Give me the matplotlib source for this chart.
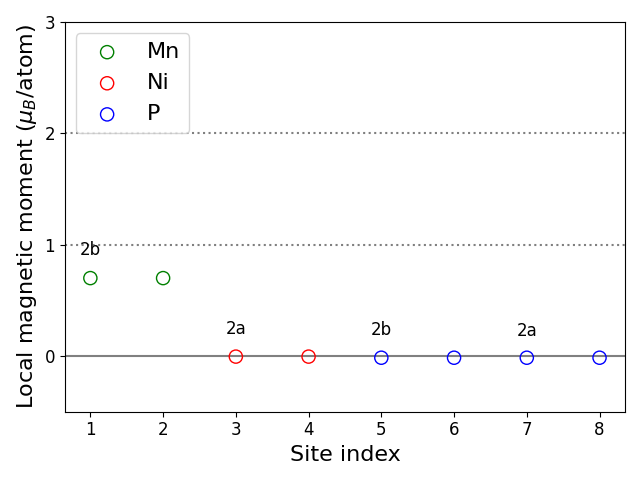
import numpy as np
import matplotlib
matplotlib.use('Agg')
import matplotlib.pyplot as plt

# Site-resolved local moments
mn_sites = [1, 2]
mn_moments = [0.70, 0.70]
ni_sites = [3, 4]
ni_moments = [-0.005, -0.005]
p_sites = [5, 6, 7, 8]
p_moments = [-0.015, -0.015, -0.015, -0.015]

# Wyckoff labels
wyckoff_sites = [1, 3, 5, 7]
wyckoff_labels = ['2b', '2a', '2b', '2a']
wyckoff_y = [0.95, 0.24, 0.235, 0.225]

fig, ax = plt.subplots(figsize=(6.4, 4.8), dpi=100)

ax.axhline(0, color='grey', lw=1.5, zorder=1)
ax.axhline(1, color='grey', ls=':', lw=1.5, zorder=1)
ax.axhline(2, color='grey', ls=':', lw=1.5, zorder=1)

ax.scatter(mn_sites, mn_moments, s=90, facecolors='none', edgecolors='green', label='Mn', zorder=3)
ax.scatter(ni_sites, ni_moments, s=90, facecolors='none', edgecolors='red', label='Ni', zorder=3)
ax.scatter(p_sites, p_moments, s=90, facecolors='none', edgecolors='blue', label='P', zorder=3)

for xs, lab, ys in zip(wyckoff_sites, wyckoff_labels, wyckoff_y):
    ax.text(xs, ys, lab, ha='center', va='center', fontsize=12)

ax.set_ylim(-0.5, 3)
ax.set_yticks([0, 1, 2, 3])
ax.set_xticks(range(1, 9))
ax.tick_params(labelsize=12)
ax.set_xlabel('Site index', fontsize=16)
ax.set_ylabel(r'Local magnetic moment ($\mu_B$/atom)', fontsize=16)
ax.legend(fontsize=16, loc='upper left')

fig.tight_layout()
fig.savefig('out.png')
